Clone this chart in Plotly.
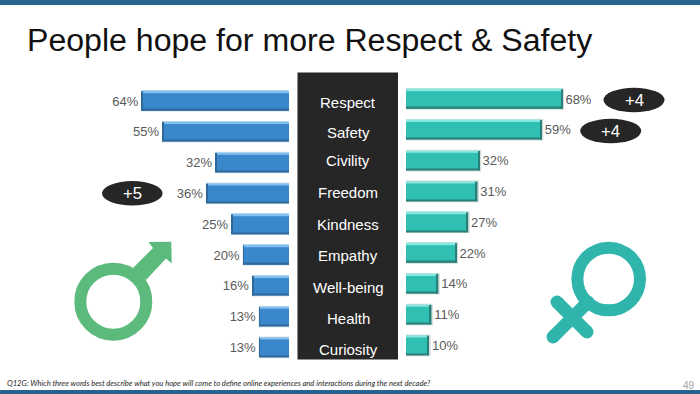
import plotly.graph_objects as go

# ---- data ----
categories = ["Respect", "Safety", "Civility", "Freedom", "Kindness", "Empathy", "Well-being", "Health", "Curiosity"]
men_values = [64, 55, 32, 36, 25, 20, 16, 13, 13]
women_values = [68, 59, 32, 31, 27, 22, 14, 11, 10]
title_text = "People hope for more Respect & Safety"
footnote_text = "Q12G: Which three words best describe what you hope will come to define online experiences and interactions during the next decade?"
page_number = "49"

W, H = 700, 394
PX_PER_PCT = 2.3
ROW = 30.8


def px(x):
    return x / W


def py(y):
    return 1 - y / H


def layers(values, xa, ya, main, light, dark, shadow, shadow_extra, cap):
    """Bevelled bar: shadow, body, top highlight, bottom and end edge."""
    common = dict(y=categories, orientation="h", xaxis=xa, yaxis=ya, hoverinfo="skip", showlegend=False)
    return [
        go.Bar(x=[v + shadow_extra for v in values], width=0.70, offset=-0.35,
               marker=dict(color=shadow, line_width=0), **common),
        go.Bar(x=values, width=0.63, offset=-0.315, marker=dict(color=main, line_width=0),
               text=[f"{v}%" for v in values], textposition="outside", cliponaxis=False,
               textfont=dict(family="Liberation Sans", size=13, color="#595959"), **common),
        go.Bar(x=values, width=0.06, offset=-0.315, marker=dict(color=light, line_width=0), **common),
        go.Bar(x=values, width=0.04, offset=0.275, marker=dict(color=dark, line_width=0), **common),
        go.Bar(x=[cap] * len(values), base=[v - cap for v in values], width=0.63, offset=-0.315,
               marker=dict(color=dark, line_width=0), **common),
    ]


fig = go.Figure()
for t in layers(men_values, "x", "y", "#3b87cc", "#80c0f0", "#2f6899", "#dfe6ec", 0.2, 0.35):
    fig.add_trace(t)
for t in layers(women_values, "x2", "y2", "#30bfb3", "#86e8df", "#2b7f79", "#d5dcdc", 0.7, 0.6):
    fig.add_trace(t)

shapes = []


def rect(x0, y0, x1, y1, color):
    shapes.append(dict(type="rect", xref="paper", yref="paper", x0=px(x0), x1=px(x1), y0=py(y0), y1=py(y1),
                       fillcolor=color, line_width=0, layer="below"))


def ellipse(cx, cy, rx, ry, fill=None, line=None, lw=0):
    shapes.append(dict(type="circle", xref="paper", yref="paper", x0=px(cx - rx), x1=px(cx + rx),
                       y0=py(cy + ry), y1=py(cy - ry), fillcolor=fill or "rgba(0,0,0,0)",
                       line=dict(color=line or "rgba(0,0,0,0)", width=lw)))


def poly(points, color):
    d = "M" + " L".join(f"{px(x):.5f},{py(y):.5f}" for x, y in points) + " Z"
    shapes.append(dict(type="path", xref="paper", yref="paper", path=d, fillcolor=color, line_width=0))


def stroke(x0, y0, x1, y1, color, w):
    shapes.append(dict(type="line", xref="paper", yref="paper", x0=px(x0), x1=px(x1), y0=py(y0), y1=py(y1),
                       line=dict(color=color, width=w)))
    ellipse(x0, y0, w / 2, w / 2, fill=color)
    ellipse(x1, y1, w / 2, w / 2, fill=color)


# bands and centre panel
rect(0, 0, 700, 5, "#28628f")
rect(0, 390, 700, 394, "#28628f")
rect(297.5, 72.5, 398, 359.5, "#262626")

# change pills
ellipse(132.3, 193.3, 30.3, 12.2, fill="#262626")
ellipse(634, 100, 30.5, 12.3, fill="#262626")
ellipse(610.7, 131, 30.5, 12.3, fill="#262626")

# male symbol
MALE = "#5cba7d"
ellipse(113.3, 301.7, 33, 33, line=MALE, lw=12)
poly([(133, 268), (153, 248), (148.5, 242), (171.3, 241.7), (171.7, 263.5), (166, 258.5), (146, 280)], MALE)

# female symbol
FEMALE = "#2fb5ab"
ellipse(608.7, 279, 31.3, 31.3, line=FEMALE, lw=12)
stroke(588, 302, 553, 337, FEMALE, 13)
stroke(557, 302, 587, 332, FEMALE, 13)

annotations = []


def label(x, y, text, size, color, family="Liberation Sans", xanchor="center", italic=False):
    annotations.append(dict(xref="paper", yref="paper", x=px(x), y=py(y), text=f"<i>{text}</i>" if italic else text,
                            showarrow=False, xanchor=xanchor, yanchor="middle",
                            font=dict(family=family, size=size, color=color), borderpad=0, borderwidth=0))


cat_y = [102, 133, 161, 192, 224, 255, 287, 318, 349]
for name, y in zip(categories, cat_y):
    label(348, y, name, 15, "#ffffff")
label(132.3, 193.3, "+5", 16.7, "#ffffff")
label(634, 100, "+4", 16.7, "#ffffff")
label(610.7, 131, "+4", 16.7, "#ffffff")
label(27, 40, title_text, 32.1, "#111111", xanchor="left")
label(7, 382.5, footnote_text, 7.6, "#262626", family="Lato", xanchor="left", italic=True)
label(689, 385, page_number, 10, "#a6a6a6")

axis_off = dict(visible=False, showgrid=False, zeroline=False, fixedrange=True)
left_x0, right_x1 = 100, 660
fig.update_layout(
    width=W, height=H, autosize=False,
    margin=dict(l=0, r=0, t=0, b=0),
    paper_bgcolor="#ffffff", plot_bgcolor="rgba(0,0,0,0)",
    barmode="overlay", showlegend=False,
    shapes=shapes, annotations=annotations,
    xaxis=dict(domain=[px(left_x0), px(289)], range=[(289 - left_x0) / PX_PER_PCT, 0], **axis_off),
    yaxis=dict(domain=[py(101 + 8.5 * ROW), py(101 - 0.5 * ROW)], type="category", categoryorder="array",
               categoryarray=categories, autorange="reversed", anchor="x", **axis_off),
    xaxis2=dict(domain=[px(406), px(right_x1)], range=[0, (right_x1 - 406) / PX_PER_PCT], anchor="y2", **axis_off),
    yaxis2=dict(domain=[py(99 + 8.5 * ROW), py(99 - 0.5 * ROW)], type="category", categoryorder="array",
                categoryarray=categories, autorange="reversed", anchor="x2", **axis_off),
)

fig.write_html("out.html", config={"displayModeBar": False},
               post_script="document.body.style.margin='0';")
